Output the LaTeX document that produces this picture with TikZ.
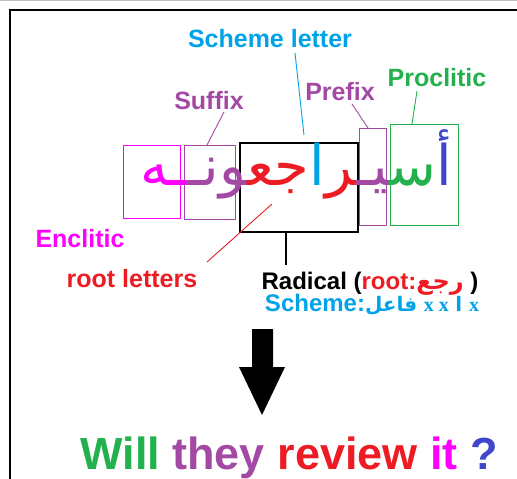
\documentclass[tikz,border=0pt]{standalone}
\usepackage{fontspec}
\setmainfont{Liberation Sans}
\newfontfamily\arabicfont[Script=Arabic]{DejaVu Sans}
\newfontfamily\xfont{Liberation Serif}
\TeXXeTstate=1
\definecolor{pcyan}{HTML}{00A2E8}
\definecolor{ppurple}{HTML}{A349A4}
\definecolor{pgreen}{HTML}{22B14C}
\definecolor{pred}{HTML}{ED1C24}
\definecolor{pmag}{HTML}{FF00FF}
\definecolor{pblue}{HTML}{3F48CC}
% zero width joiner, keeps letters joined across colour changes
\newcommand\zj{^^^^200d}
% tatweel, lengthens a join
\newcommand\tw{^^^^0640}
\tikzset{
  lbl/.style={font=\fontsize{25}{25}\selectfont\bfseries, inner sep=0pt, anchor=base},
  part/.style={draw, line width=1pt},
  lead/.style={line width=0.9pt},
}
\begin{document}
\begin{tikzpicture}[x=1pt,y=-1pt]
\useasboundingbox (0,0) rectangle (517,479);
% page frame
\draw[black!25, line width=0.8pt] (0,0.5) -- (517,0.5);
\draw[line width=1.2pt] (10,479) -- (10,10) -- (517,10);

% boxes around the parts of the word
\node[part, pmag, minimum width=57pt, minimum height=73pt, inner sep=0pt] (encl) at (151.5,182) {};
\node[part, ppurple, minimum width=51pt, minimum height=74pt, inner sep=0pt] (suff) at (209.5,182) {};
\node[part, black, line width=1.2pt, minimum width=118pt, minimum height=89pt, inner sep=0pt] (rad) at (299,187.5) {};
\node[part, ppurple, minimum width=27pt, minimum height=97pt, inner sep=0pt] (pref) at (372.5,176.5) {};
\node[part, pgreen, minimum width=68pt, minimum height=101pt, inner sep=0pt] (procl) at (424,174.5) {};

% the word, segments set left to right, each one shaped on its own
\node[inner sep=0pt, anchor=base east] (word) at (452,185) {\fontsize{56}{56}\arabicfont
  {\color{pmag}\zj\tw ه}{\color{ppurple}\zj ون\tw\zj}{\color{pred}جع\zj}{\color{pcyan}ا}{\color{pred}\zj ر}{\color{ppurple}\zj ي\tw\zj}{\color{pgreen}س\zj}{\color{pblue}أ}};

% labels
\node[lbl, pcyan] (schl) at (270,47) {Scheme letter};
\node[lbl, ppurple] (sufl) at (209,109) {Suffix};
\node[lbl, ppurple] (prefl) at (340,100) {Prefix};
\node[lbl, pgreen] (procll) at (437,86) {Proclitic};
\node[lbl, pmag] (encll) at (80,247) {Enclitic};
\node[lbl, pred] (rootl) at (132,287) {root letters};
\node[lbl, font=\fontsize{24}{24}\selectfont\bfseries] (radl) at (370,289)
  {Radical (\textcolor{pred}{root:{\arabicfont\beginR رجع\endR}} )};
\node[lbl, pcyan, font=\fontsize{24}{24}\selectfont\bfseries] (scheml) at (372,311)
  {Scheme:{\arabicfont\fontsize{20}{20}\selectfont\beginR فاعل\endR} {\xfont\fontsize{20}{20}\selectfont x x} {\arabicfont\fontsize{20}{20}\selectfont ا} {\xfont\fontsize{20}{20}\selectfont x}};

% leader line end points
\coordinate (schA) at (295,53);
\coordinate (schB) at (304,135);
\coordinate (sufA) at (224,112);
\coordinate (sufB) at (207,145);
\coordinate (prefA) at (352,104);
\coordinate (prefB) at (368,128);
\coordinate (procA) at (417,91);
\coordinate (procB) at (412,124);
\coordinate (rootA) at (207,262);
\coordinate (rootB) at (272,204);
\coordinate (radB) at (286,265);

\draw[lead, pcyan] (schA) -- (schB);
\draw[lead, ppurple] (sufA) -- (sufB);
\draw[lead, ppurple] (prefA) -- (prefB);
\draw[lead, pgreen] (procA) -- (procB);
\draw[lead, pred] (rootA) -- (rootB);
\draw[lead, black, line width=1.2pt] (rad.south -| radB) -- (radB);

% big arrow
\fill (252,329) -- (273,329) -- (273,367) -- (285,367) -- (262,415) -- (239,367) -- (252,367) -- cycle;

% translation
\node[lbl, font=\fontsize{45}{45}\selectfont\bfseries] (trans) at (289,469)
  {\textcolor{pgreen}{Will} \textcolor{ppurple}{they} \textcolor{pred}{review} \textcolor{pmag}{it} \textcolor{pblue}{?}};
\end{tikzpicture}
\end{document}
